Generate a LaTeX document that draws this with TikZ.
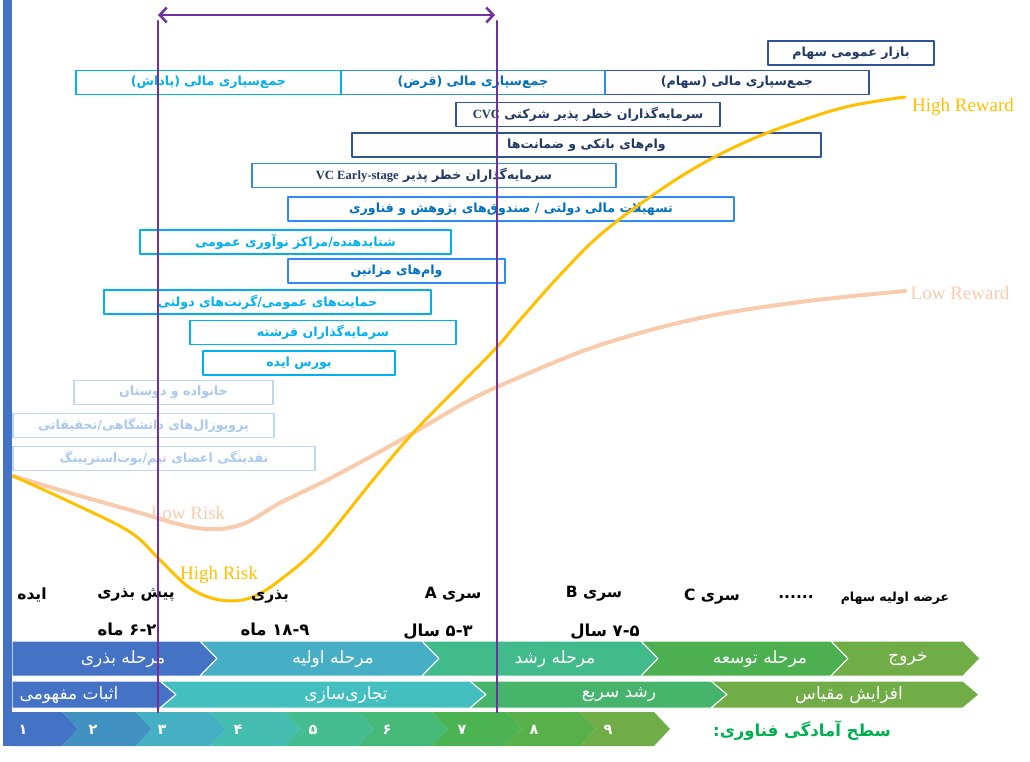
\documentclass[tikz,border=0pt]{standalone}
\usepackage{fontspec}
\usepackage{tikz}
\usetikzlibrary{arrows,arrows.meta}
\TeXXeTstate=1
\newfontfamily\fa[Script=Arabic]{DejaVu Sans}
\newfontfamily\latin{Liberation Serif}

\definecolor{stagepurple}{HTML}{7030A0}
\definecolor{riskgold}{HTML}{FFC000}
\definecolor{riskpeach}{HTML}{F8CBAD}
\definecolor{navytext}{HTML}{1F3864}
\definecolor{navyline}{HTML}{2F5597}
\definecolor{bluetext}{HTML}{0070C0}
\definecolor{blueline}{HTML}{2E8BEF}
\definecolor{cyantext}{HTML}{00B0F0}
\definecolor{fadetext}{HTML}{A9C8F0}
\definecolor{fadeline}{HTML}{BDD7EE}
\definecolor{trlgreen}{HTML}{00B050}
\definecolor{chA}{HTML}{4472C4}
\definecolor{chB}{HTML}{46AFC6}
\definecolor{chC}{HTML}{41BA8C}
\definecolor{chD}{HTML}{4CB050}
\definecolor{chE}{HTML}{70AD47}
\definecolor{chT}{HTML}{44BFC0}
\definecolor{chG}{HTML}{47B46C}
\definecolor{trlA}{HTML}{4472C4}
\definecolor{trlB}{HTML}{4192C0}
\definecolor{trlC}{HTML}{45AFC4}
\definecolor{trlD}{HTML}{44BDB0}
\definecolor{trlE}{HTML}{45BD90}
\definecolor{trlF}{HTML}{46B878}
\definecolor{trlG}{HTML}{4BB351}
\definecolor{trlH}{HTML}{58B04A}
\definecolor{trlI}{HTML}{70AD47}

\tikzset{
  fundbox/.style={draw,line width=1.2pt,minimum height=24,inner sep=0pt,
    font=\fa\bfseries\fontsize{12.6}{14}\selectfont},
  navybox/.style={fundbox,draw=navyline,text=navytext},
  bluebox/.style={fundbox,draw=blueline,text=bluetext},
  cyanbox/.style={fundbox,draw=cyantext,text=cyantext},
  fadebox/.style={fundbox,draw=fadeline,text=fadetext},
  stagelabel/.style={font=\fa\bfseries\fontsize{15.5}{17}\selectfont,inner sep=0pt},
  phaselabel/.style={font=\fa\fontsize{17}{19}\selectfont,text=white,inner sep=0pt},
  risklabel/.style={font=\latin\fontsize{19}{22}\selectfont,inner sep=0pt},
}

\begin{document}
\begin{tikzpicture}[x=1pt,y=-1pt,line cap=round,line join=round,>={Straight Barb[length=7pt,width=15pt]}]
\useasboundingbox (0,0) rectangle (1030,762);

% funding sources
\node[navybox,minimum width=166] (publicmarket) at (851,53) {\beginR بازار عمومی سهام\endR};
\node[navybox,minimum width=264] (crowdequity) at (737,82.5) {\beginR جمع‌سپاری مالی (سهام)\endR};
\node[bluebox,minimum width=264] (crowddebt) at (473,82.5) {\beginR جمع‌سپاری مالی (قرض)\endR};
\node[cyanbox,minimum width=265] (crowdreward) at (208.5,82.5) {\beginR جمع‌سپاری مالی (پاداش)\endR};
\node[navybox,minimum width=264] (cvc) at (588,114.5) {\beginR سرمایه‌گذاران خطر پذیر شرکتی {\latin CVC}\endR};
\node[navybox,minimum width=469] (bankloan) at (586.5,145) {\beginR وام‌های بانکی و ضمانت‌ها\endR};
\node[bluebox,text=navytext,minimum width=364] (vcearly) at (434,175.5) {\beginR سرمایه‌گذاران خطر پذیر \beginL{\latin VC Early-stage}\endL\endR};
\node[bluebox,minimum width=446] (govfund) at (511,209) {\beginR تسهیلات مالی دولتی / صندوق‌های پژوهش و فناوری\endR};
\node[cyanbox,minimum width=311] (accel) at (295.5,242) {\beginR شتابدهنده/مراکز نوآوری عمومی\endR};
\node[bluebox,minimum width=217] (mezz) at (396.5,271) {\beginR وام‌های مزانین\endR};
\node[cyanbox,minimum width=327] (grants) at (267.5,302) {\beginR حمایت‌های عمومی/گرنت‌های دولتی\endR};
\node[cyanbox,minimum width=266] (angels) at (323,332.5) {\beginR سرمایه‌گذاران فرشته\endR};
\node[cyanbox,minimum width=192] (ideabourse) at (299,363) {\beginR بورس ایده\endR};
\node[fadebox,minimum width=199] (family) at (173.5,392.5) {\beginR خانواده و دوستان\endR};
\node[fadebox,minimum width=261] (proposals) at (143.5,425.5) {\beginR پروپوزال‌های دانشگاهی/تحقیقاتی\endR};
\node[fadebox,minimum width=302] (bootstrap) at (164,458.5) {\beginR نقدینگی اعضای تیم/بوت‌استرپینگ\endR};

% risk / reward curves
\draw[riskpeach,line width=4] plot[smooth,tension=0.6] coordinates {(13,476) (60,490) (130,510) (197,528) (240,525) (280,503) (327,480) (370,457) (413,433) (470,400) (520,377) (600,345) (700,318) (800,302) (905,291)};
\draw[riskgold,line width=3] plot[smooth,tension=0.6] coordinates {(13,476) (70,502) (130,532) (160,560) (190,588) (220,600) (250,598) (280,580) (320,545) (373,480) (413,433) (455,390) (497,347) (520,320) (560,275) (600,235) (650,197) (700,165) (750,140) (800,121) (850,106) (905,97)};
\node[risklabel,text=riskgold] (highreward) at (963,107) {High Reward};
\node[risklabel,text=riskpeach] (lowreward) at (960,293) {Low Reward};
\node[risklabel,text=riskpeach] (lowrisk) at (188,513) {Low Risk};
\node[risklabel,text=riskgold] (highrisk) at (219,575) {High Risk};

% stages and durations
\node[stagelabel] (idea) at (32,595) {\beginR ایده\endR};
\node[stagelabel] (preseed) at (136,595) {\beginR پیش بذری\endR};
\node[stagelabel] (seed) at (270,597) {\beginR بذری\endR};
\node[stagelabel] (seriesA) at (453,595) {\beginR سری A\endR};
\node[stagelabel] (seriesB) at (594,594) {\beginR سری B\endR};
\node[stagelabel] (seriesC) at (712,597) {\beginR سری C\endR};
\node[stagelabel] (dots) at (796,597) {......};
\node[stagelabel,font=\fa\bfseries\fontsize{12.5}{14}\selectfont] (ipo) at (895,598) {\beginR عرضه اولیه سهام\endR};
\node[stagelabel,font=\fa\bfseries\fontsize{16.5}{18}\selectfont] (durpre) at (127,629) {\beginR\hbox{۲}\hbox{-}\hbox{۶} ماه\endR};
\node[stagelabel,font=\fa\bfseries\fontsize{16.5}{18}\selectfont] (durseed) at (275,629) {\beginR\hbox{۹}\hbox{-}\hbox{۱۸} ماه\endR};
\node[stagelabel,font=\fa\bfseries\fontsize{16.5}{18}\selectfont] (durA) at (438,632) {\beginR\hbox{۳}\hbox{-}\hbox{۵} سال\endR};
\node[stagelabel,font=\fa\bfseries\fontsize{16.5}{18}\selectfont] (durB) at (605,632) {\beginR\hbox{۵}\hbox{-}\hbox{۷} سال\endR};

% phase chevrons
\foreach \xa/\xb/\col/\tx/\lbl [count=\i] in {12/200/chA/123/{مرحله بذری},200/422/chB/333/{مرحله اولیه},422/641/chC/555/{مرحله رشد},641/831/chD/760/{مرحله توسعه},831/963/chE/908/{خروج}}{
  \pgfmathsetmacro\nd{\i==1 ? 0 : 17}
  \fill[\col,draw=white,line width=1] (\xa,641) -- (\xb,641) -- (\xb+17,658.5) -- (\xb,676) -- (\xa,676) -- (\xa+\nd,658.5) -- cycle;
  \node[phaselabel] (phase\i) at (\tx,659) {\beginR\lbl\endR};
}
\foreach \xa/\xb/\col/\tx/\lbl [count=\i] in {12/160/chA/69/{اثبات مفهومی},160/470/chT/346/{تجاری‌سازی},470/711/chG/619/{رشد سریع},711/963/chE/849/{افزایش مقیاس}}{
  \pgfmathsetmacro\nd{\i==1 ? 0 : 16}
  \fill[\col,draw=white,line width=1] (\xa,681) -- (\xb,681) -- (\xb+16,694.5) -- (\xb,708) -- (\xa,708) -- (\xa+\nd,694.5) -- cycle;
  \node[phaselabel] (track\i) at (\tx,695) {\beginR\lbl\endR};
}
\foreach \xa/\xb/\col/\tx/\num [count=\i] in {12/62/trlA/23/۱,62/136/trlB/93/۲,136/210/trlC/162/۳,210/284/trlD/238/۴,284/358/trlE/313/۵,358/432/trlF/387/۶,432/506/trlG/462/۷,506/580/trlH/534/۸,580/654/trlI/608/۹}{
  \pgfmathsetmacro\nd{\i==1 ? 0 : 16}
  \fill[\col] (\xa,712) -- (\xb,712) -- (\xb+16,729) -- (\xb,746) -- (\xa,746) -- (\xa+\nd,729) -- cycle;
  \node[phaselabel,font=\fa\bfseries\fontsize{14.5}{16}\selectfont] (trl\i) at (\tx,730) {\num};
}
\node[stagelabel,text=trlgreen,font=\fa\bfseries\fontsize{16.5}{18}\selectfont] (trltitle) at (802,731) {\beginR سطح آمادگی فناوری:\endR};

% left bar
\fill[chA] (3,0) rectangle (12,746);

% seed window
\coordinate (winL) at (158,15);
\coordinate (winR) at (495,15);
\draw[<->,stagepurple,line width=2.5] (winL) -- (winR);
\draw[stagepurple,line width=2.5] (158,21) -- (158,712);
\draw[stagepurple,line width=2.5] (497,21) -- (497,712);
\end{tikzpicture}
\end{document}
